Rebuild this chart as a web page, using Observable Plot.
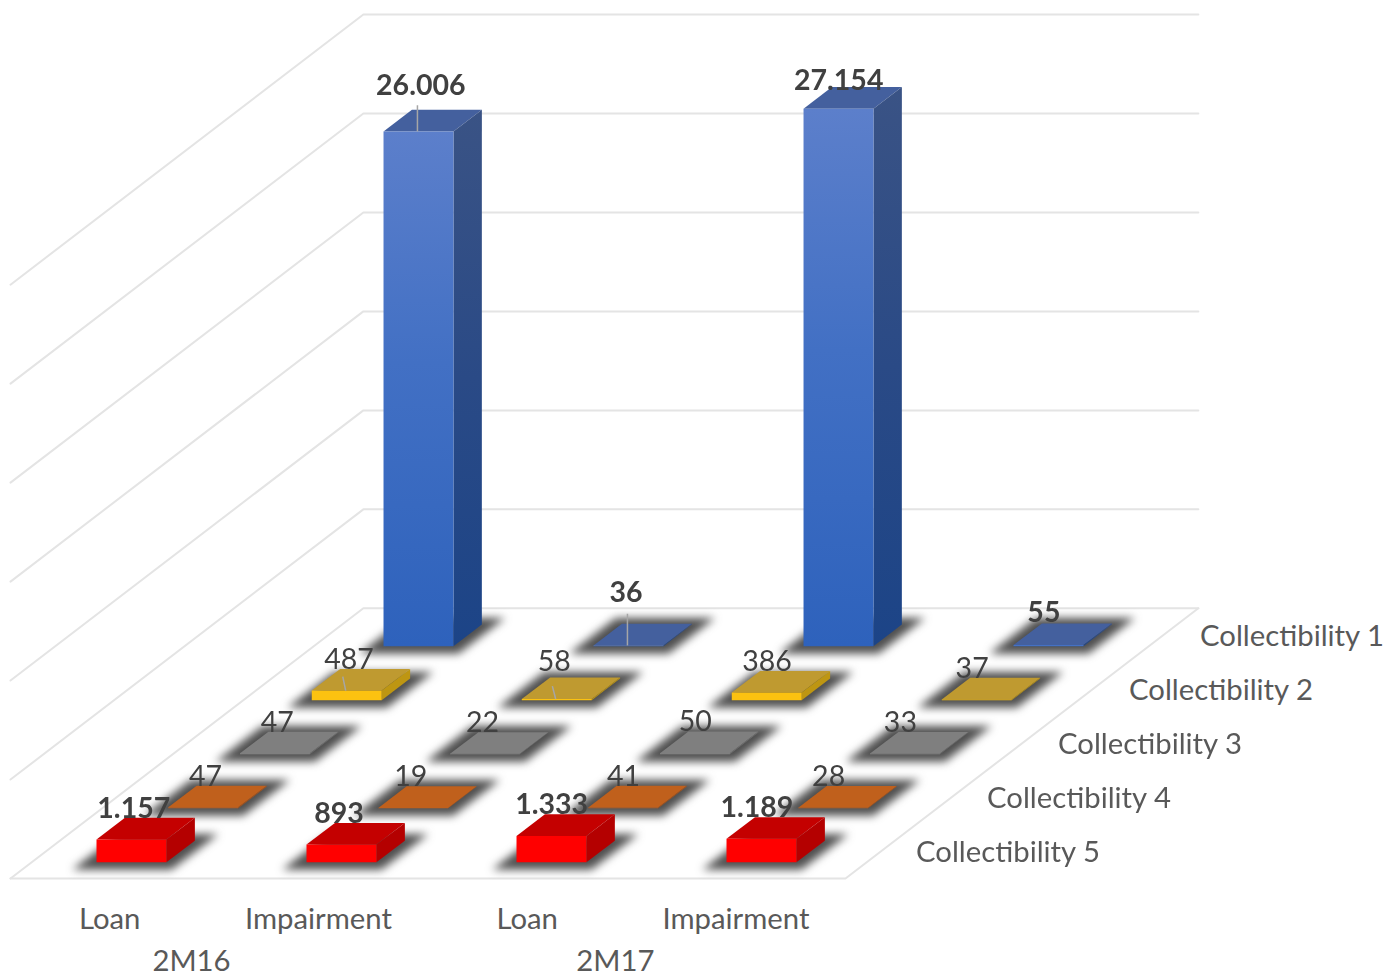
<!DOCTYPE html>
<html>
<head>
<meta charset="utf-8">
<script src="https://cdn.jsdelivr.net/npm/d3@7"></script>
<script src="https://cdn.jsdelivr.net/npm/@observablehq/plot@0.6"></script>
<style>
html,body{margin:0;padding:0;background:#fff;overflow:hidden}
svg{display:block}
</style>
</head>
<body>
<div id="chart"></div>
<script>
// ---- data ----
const measures = ["Loan", "Impairment", "Loan", "Impairment"];
const periods = ["2M16", "2M17"];
const rows = ["Collectibility 5", "Collectibility 4", "Collectibility 3", "Collectibility 2", "Collectibility 1"];
const collectibility1 = [26006, 36, 27154, 55];
const collectibility2 = [487, 58, 386, 37];
const collectibility3 = [47, 22, 50, 33];
const collectibility4 = [47, 19, 41, 28];
const collectibility5 = [1157, 893, 1333, 1189];
const seriesValues = [collectibility5, collectibility4, collectibility3, collectibility2, collectibility1];
const gridValues = [0, 5000, 10000, 15000, 20000, 25000, 30000];
const boldRows = [0, 4];

// ---- styles ----
const frontColors = ["#FF0000", "#C8601C", "#8A8A8A", "#FCC210", "url(#blueFront)"];
const sideColors = ["#B40000", "#A8521A", "#707070", "#BE9612", "url(#blueSide)"];
const topColors = ["#C40000", "#C0601C", "#7F7F7F", "#BF9A30", "#44609E"];

// ---- oblique projection: category position, depth row, value -> scale domain ----
const rowDepthX = 71 / 208.75;   // categories moved per depth row
const rowDepthY = 2730;          // value units moved per depth row
const depthRows = rows.length;
const valueMax = 30000;
const px = (c, d) => c + d * rowDepthX;
const py = (v, d) => v + d * rowDepthY;

// bar footprint inside a cell; columns sit slightly wider apart than the floor's ticks
const barC0 = 0.31, barC1 = 0.645, barD0 = 0.3, barD1 = 0.7;
const colStep = 1.006, rowDrift = 0.0036;
const cellC = (i, r) => i * colStep + r * rowDrift;

const poly = (id, fill, pts) => pts.map(([c, d, v]) => ({id, fill, x: px(c, d), y: py(v, d)}));

const faces = [];
const shadows = [];
for (let r = depthRows - 1; r >= 0; --r) {
  seriesValues[r].forEach((v, i) => {
    const c0 = cellC(i, r) + barC0, c1 = cellC(i, r) + barC1, d0 = r + barD0, d1 = r + barD1;
    const e = 0.07, f = 0.13;
    shadows.push(...poly(`s${r}-${i}`, "#3c3c3c", [
      [c0 - e, d0 - f, 0], [c1 + e, d0 - f, 0], [c1 + e, d1 + f, 0], [c0 - e, d1 + f, 0]
    ]));
    faces.push(...poly(`t${r}-${i}`, topColors[r], [[c0, d0, v], [c1, d0, v], [c1, d1, v], [c0, d1, v]]));
    faces.push(...poly(`x${r}-${i}`, sideColors[r], [[c1, d0, 0], [c1, d1, 0], [c1, d1, v], [c1, d0, v]]));
    faces.push(...poly(`f${r}-${i}`, frontColors[r], [[c0, d0, 0], [c1, d0, 0], [c1, d0, v], [c0, d0, v]]));
  });
}

// walls and floor
const wallDepth = depthRows - 0.03;
const wallLines = [];
gridValues.forEach((v) => {
  const back = py(v, depthRows);
  wallLines.push(
    {id: `w${v}`, x: px(0, 0), y: py(v, 0)},
    {id: `w${v}`, x: px(0, wallDepth), y: back},
    {id: `w${v}`, x: px(measures.length, wallDepth), y: back}
  );
});
wallLines.push(
  {id: "front", x: px(0, 0), y: py(0, 0)},
  {id: "front", x: px(measures.length, 0), y: py(0, 0)},
  {id: "front", x: px(measures.length, wallDepth), y: py(0, depthRows)}
);

// value labels
const fmt = (v) => d3.format(",")(v).replace(/,/g, ".");
const liftNormal = 1115;
const liftRed = 1110;
const liftByValue = new Map([[26006, 1875], [27154, 960], [36, 2230], [58, 1420], [55, 1165]]);
const labelShiftC = [-0.057, -0.08, -0.067, -0.09];
const labels = [];
seriesValues.forEach((vals, r) => vals.forEach((v, i) => {
  const cm = cellC(i, r) + (barC0 + barC1) / 2 + labelShiftC[i];
  const dm = r + (barD0 + barD1) / 2;
  const lift = liftByValue.get(v) ?? (r === 0 ? liftRed : liftNormal);
  labels.push({text: fmt(v), x: px(cm, dm), y: py(v, dm) + lift, bold: boldRows.includes(r)});
}));

// leader lines from bar's top front edge
const leaderSpecs = [
  {r: 4, i: 0, lift: 1320, lean: 0},
  {r: 4, i: 1, lift: 1600, lean: 0},
  {r: 3, i: 0, lift: 700, lean: -0.014},
  {r: 3, i: 1, lift: 650, lean: -0.016}
];
const leaders = leaderSpecs.map(({r, i, lift, lean}) => {
  const v = seriesValues[r][i];
  const cm = cellC(i, r) + (barC0 + barC1) / 2 - 0.005, d = r + barD0;
  return {x1: px(cm, d), y1: py(v, d), x2: px(cm + lean, d), y2: py(v, d) + lift};
});

const catLabels = measures.map((m, i) => ({text: m, x: i + 0.475}));
const periodLabels = periods.map((p, i) => ({text: p, x: [0.867, 2.898][i]}));
const rowLabels = rows.map((t, r) => ({text: t, x: px(measures.length, r + 0.5), y: py(0, r + 0.5)}));

const font = "Lato, 'Open Sans', sans-serif";
const labelSize = 28.5, axisSize = 29.3;

const chart = Plot.plot({
  width: 1385,
  height: 973,
  margin: 0,
  style: {background: "#fff", fontFamily: font},
  x: {axis: null, domain: [0, measures.length], range: [10, 845]},
  y: {axis: null, domain: [0, valueMax + depthRows * rowDepthY], range: [878, 14]},
  color: {type: "identity"},
  marks: [
    Plot.line(wallLines, {x: "x", y: "y", z: "id", stroke: "#E4E4E4", strokeWidth: 2}),
    Plot.line(shadows, {x: "x", y: "y", z: "id", fill: "fill", stroke: "none", imageFilter: "blur(4.5px)", opacity: 0.9}),
    Plot.line(faces, {x: "x", y: "y", z: "id", fill: "fill", stroke: "none"}),
    Plot.link(leaders, {x1: "x1", y1: "y1", x2: "x2", y2: "y2", stroke: "#A6A6A6", strokeWidth: 1.5}),
    Plot.text(labels.filter((d) => !d.bold), {x: "x", y: "y", text: "text", dy: 2, fill: "#404040", fontSize: labelSize}),
    Plot.text(labels.filter((d) => d.bold), {x: "x", y: "y", text: "text", dy: 2, fill: "#404040", fontSize: labelSize, fontWeight: "bold"}),
    Plot.text(catLabels, {x: "x", y: () => 0, text: "text", dy: 41, fill: "#595959", fontSize: axisSize}),
    Plot.text(periodLabels, {x: "x", y: () => 0, text: "text", dy: 83, fill: "#595959", fontSize: axisSize}),
    Plot.text(rowLabels, {x: "x", y: "y", text: "text", dx: 35, dy: 1, textAnchor: "start", fill: "#595959", fontSize: axisSize})
  ]
});
chart.insertAdjacentHTML("afterbegin", `<defs>
<linearGradient id="blueFront" x1="0" y1="0" x2="0" y2="1"><stop offset="0" stop-color="#5C7FCB"/><stop offset="0.45" stop-color="#4270C4"/><stop offset="1" stop-color="#2E62BC"/></linearGradient>
<linearGradient id="blueSide" x1="0" y1="0" x2="0" y2="1"><stop offset="0" stop-color="#3A5385"/><stop offset="0.5" stop-color="#2A4A86"/><stop offset="1" stop-color="#1C4487"/></linearGradient>
</defs>`);
document.getElementById("chart").appendChild(chart);
</script>
</body>
</html>
